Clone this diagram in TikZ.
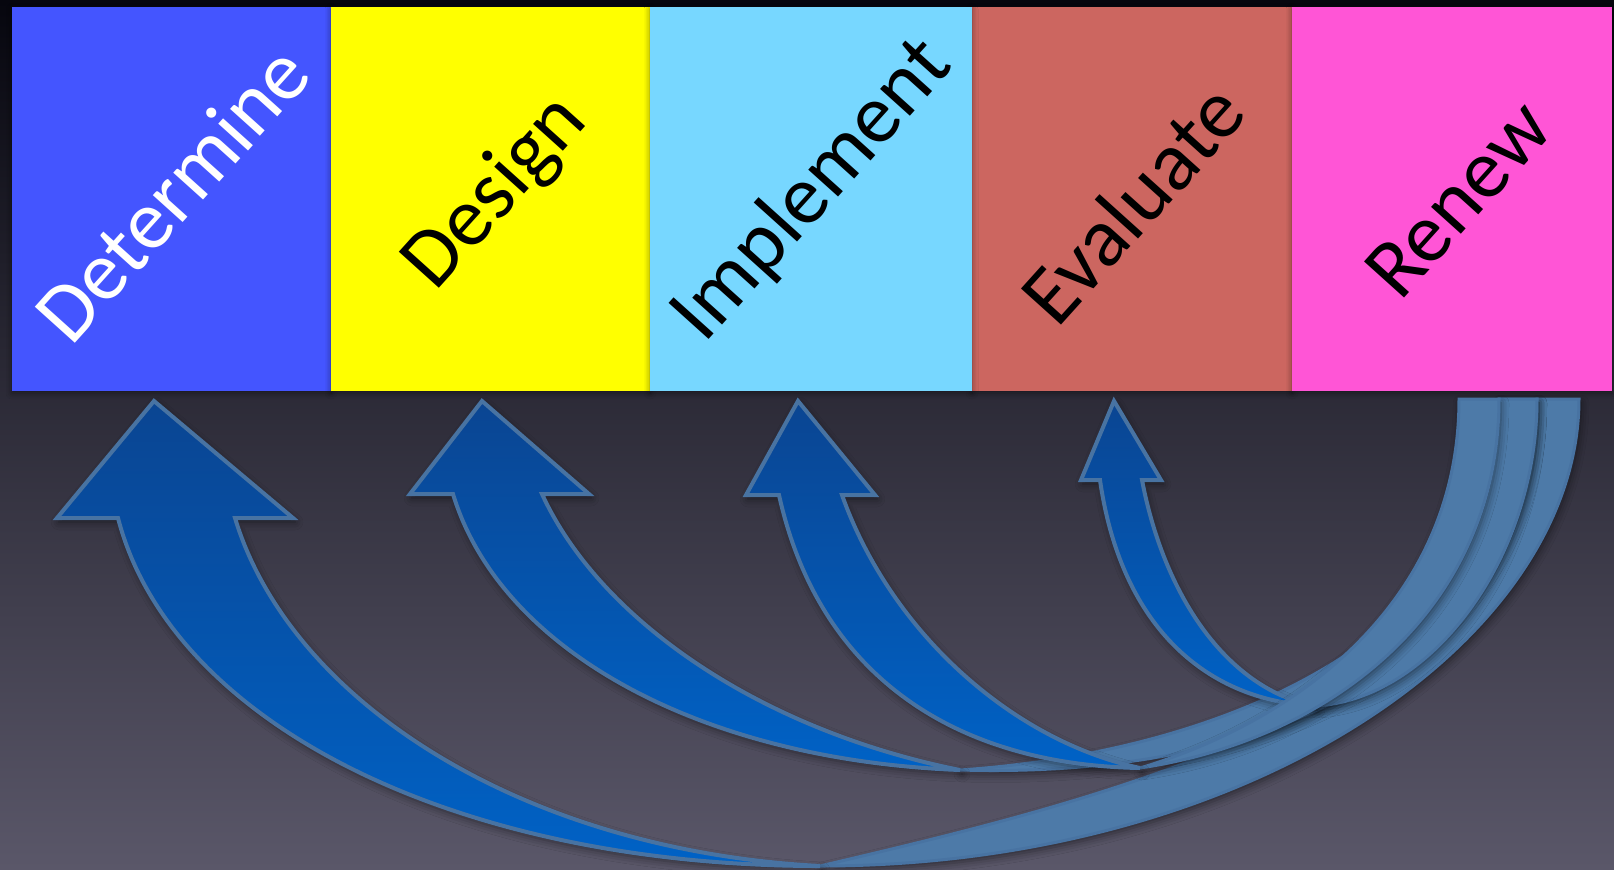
\documentclass[tikz,border=0pt]{standalone}
\usepackage{fontspec}
\setmainfont{Carlito}
\usepackage{xcolor}
\usepackage{tikz}
\usetikzlibrary{shadows.blur}

\definecolor{bgtop}{HTML}{06060E}
\definecolor{bgmid}{HTML}{2E2B43}
\definecolor{bgbot}{HTML}{5A5769}
\definecolor{detblue}{HTML}{4455FF}
\definecolor{desyellow}{HTML}{FFFF00}
\definecolor{impcyan}{HTML}{77D7FF}
\definecolor{evared}{HTML}{CC6660}
\definecolor{renpink}{HTML}{FF55D6}
\definecolor{arrowtop}{HTML}{0A4592}
\definecolor{arrowbot}{HTML}{0062C6}
\definecolor{arrowback}{HTML}{4D7AA8}
\definecolor{arrowline}{HTML}{4873A2}

\begin{document}
\begin{tikzpicture}[x=0.5pt, y=-0.5pt,
  box/.style={inner sep=0pt, outer sep=0pt, minimum height=192pt,
    blur shadow={shadow xshift=0pt, shadow yshift=-1pt, shadow blur radius=3pt, shadow opacity=45}},
  lbl/.style={font=\fontsize{42}{50}\selectfont, rotate=48, inner sep=0pt},
  front/.style={top color=arrowtop, bottom color=arrowbot, draw=arrowline, line width=2pt, line join=miter,
    blur shadow={shadow xshift=1pt, shadow yshift=-2pt, shadow blur radius=4pt, shadow opacity=50}},
  back/.style={fill=arrowback, draw=arrowline, line width=1.5pt,
    blur shadow={shadow xshift=1pt, shadow yshift=-2pt, shadow blur radius=4pt, shadow opacity=50}}]

\useasboundingbox (0,0) rectangle (1614,869);
\shade[top color=bgtop, middle color=bgmid, bottom color=bgbot] (0,0) rectangle (1614,869);

% Boxes
\node[box, fill=detblue, minimum width=159.5pt] (det) at (171.5,199) {};
\node[box, fill=desyellow, minimum width=159.5pt] (des) at (490.5,199) {};
\node[box, fill=evared, minimum width=160pt] (eva) at (1132,199) {};
\node[box, fill=impcyan, minimum width=161pt] (imp) at (811,199) {};
\node[box, fill=renpink, minimum width=160pt] (ren) at (1452,199) {};

\node[lbl, white] (detlbl) at ([yshift=3pt]det.center) {Determine};
\node[lbl] (deslbl) at ([xshift=3pt, yshift=3pt]des.center) {Design};
\node[lbl] (implbl) at ([xshift=1pt, yshift=4pt]imp.center) {Implement};
\node[lbl] (evalbl) at ([yshift=-2pt]eva.center) {Evaluate};
\node[lbl] (renlbl) at ([xshift=3pt, yshift=0pt]ren.center) {Renew};

% Arrow to Determine
\path[back] (820,866) .. controls (1250,866) and (1579,640) .. (1579,399)
  -- (1537,399) .. controls (1537,700) and (1100,800) .. (820,866) -- cycle;
\path[front] (118,518) -- (57,518) -- (154,401) -- (293,518) -- (235,518)
  .. controls (290,700) and (520,850) .. (820,866)
  .. controls (450,866) and (170,720) .. (118,518) -- cycle;

% Arrow to Design
\path[back] (960,770) .. controls (1300,780) and (1537,640) .. (1537,399)
  -- (1499,399) .. controls (1499,620) and (1250,750) .. (960,770) -- cycle;
\path[front] (453,494) -- (410,494) -- (482,401) -- (589,494) -- (542,494)
  .. controls (600,620) and (760,730) .. (960,770)
  .. controls (700,760) and (500,650) .. (453,494) -- cycle;

% Arrow to Evaluate
\path[back] (1315,706) .. controls (1430,700) and (1537,560) .. (1537,399)
  -- (1499,399) .. controls (1499,540) and (1410,640) .. (1315,706) -- cycle;
\path[front] (1100,480) -- (1081,480) -- (1114,401) -- (1161,480) -- (1142,480)
  .. controls (1165,600) and (1230,690) .. (1315,706)
  .. controls (1200,700) and (1120,620) .. (1100,480) -- cycle;

% Arrow to Implement
\path[back] (1140,768) .. controls (1330,740) and (1499,610) .. (1499,399)
  -- (1459,399) .. controls (1459,600) and (1300,720) .. (1140,768) -- cycle;
\path[front] (779,495) -- (746,495) -- (798,401) -- (875,495) -- (842,495)
  .. controls (890,630) and (1010,740) .. (1140,768)
  .. controls (960,765) and (820,680) .. (779,495) -- cycle;

\end{tikzpicture}
\end{document}
